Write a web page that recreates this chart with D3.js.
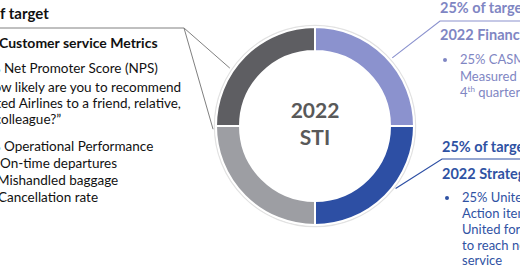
<!doctype html>
<html>
<head>
<meta charset="utf-8">
<script src="https://cdn.jsdelivr.net/npm/d3@7"></script>
<style>
  html, body { margin: 0; padding: 0; background: #fff; overflow: hidden; }
  svg { display: block; font-family: Lato, "Open Sans", sans-serif; }
</style>
</head>
<body>
<svg id="chart" width="520" height="272"></svg>
<script>
  // slices of the STI ring, clockwise from 12 o'clock
  var segments = ["2022 Financial", "2022 Strategic", "Operational Performance", "Customer service Metrics"];
  var weights = [25, 25, 25, 25];
  var centerLabel = ["2022", "STI"];

  // callout texts; "cut" is the part that falls off the left edge of the crop
  var leftTitle = { text: "50% of target", cut: 5 };
  var leftHeading = { text: "2022 Customer service Metrics", cut: 5 };
  var leftLines = [
    { text: "25% Net Promoter Score (NPS)", cut: 4 },
    { text: "\u201cHow likely are you to recommend", cut: 3 },
    { text: "United Airlines to a friend, relative,", cut: 4 },
    { text: "or colleague?\u201d", cut: 4 },
    { text: "25% Operational Performance", cut: 4 },
    { text: "\u2013 On-time departures", cut: 2 },
    { text: "\u2013 Mishandled baggage", cut: 2 },
    { text: "\u2013 Cancellation rate", cut: 2 }
  ];
  var financialTitle = "25% of target";
  var financialHeading = "2022 Financial";
  var financialLines = ["25% CASM-ex", "Measured in the", "4th quarter"];
  var strategicTitle = "25% of target";
  var strategicHeading = "2022 Strategic";
  var strategicLines = ["25% United Next", "Action items to set", "United for success", "to reach new levels of", "service"];

  var svg = d3.select("#chart");
  var cx = 315, cy = 126, outerR = 99, innerR = 75;

  var color = d3.scaleOrdinal()
    .domain(segments)
    .range(["#8b92ce", "#2d4fa4", "#9d9ea3", "#5e5e62"]);

  var pie = d3.pie().sort(null).value(function (d) { return d; });
  var arcs = pie(weights);
  arcs.forEach(function (a, i) { a.name = segments[i]; });

  var arc = d3.arc().innerRadius(innerR).outerRadius(outerR);

  var ring = svg.append("g").attr("transform", "translate(" + cx + "," + cy + ")");

  ring.append("circle")
    .attr("r", outerR + 1.5)
    .attr("fill", "none")
    .attr("stroke", "#e2e2e2")
    .attr("stroke-width", 1.5);

  ring.selectAll("path")
    .data(arcs)
    .enter().append("path")
    .attr("d", arc)
    .attr("fill", function (d) { return color(d.name); })
    .attr("stroke", "#fff")
    .attr("stroke-width", 2);

  ring.selectAll("text.center")
    .data(centerLabel)
    .enter().append("text")
    .attr("class", "center")
    .attr("text-anchor", "middle")
    .attr("y", function (d, i) { return -8 + i * 27; })
    .attr("font-size", 21)
    .attr("font-weight", "bold")
    .attr("fill", "#595959")
    .text(function (d) { return d; });

  // point on the ring edge, a fraction of the way through a slice
  function edgePoint(slice, f, r) {
    var a = slice.startAngle + f * (slice.endAngle - slice.startAngle);
    var p = d3.pointRadial(a, r);
    return [cx + p[0], cy + p[1]];
  }

  // leader lines
  var lineGen = d3.line();
  var leftKnee = [184, 28];
  var pTopLeft = edgePoint(arcs[3], 0.38, outerR + 4);
  var pLeft = edgePoint(arcs[2], 0.98, outerR + 3);
  svg.append("path")
    .attr("d", lineGen([[0, 28], leftKnee, pTopLeft]))
    .attr("fill", "none").attr("stroke", "#808080").attr("stroke-width", 1);
  svg.append("path")
    .attr("d", lineGen([leftKnee, pLeft]))
    .attr("fill", "none").attr("stroke", "#808080").attr("stroke-width", 1);

  var pFin = edgePoint(arcs[0], 0.54, outerR + 4);
  svg.append("path")
    .attr("d", lineGen([[520, 21], [440, 21], pFin]))
    .attr("fill", "none").attr("stroke", color(segments[0])).attr("stroke-width", 1.2);

  var pStr = edgePoint(arcs[1], 0.42, outerR + 3);
  svg.append("path")
    .attr("d", lineGen([[520, 159], [442, 159], pStr]))
    .attr("fill", "none").attr("stroke", color(segments[1])).attr("stroke-width", 1.2);

  // text that is cut by the left edge: place it so the visible part starts at x
  function clippedText(item, x, y, size, weight) {
    var t = svg.append("text")
      .attr("y", y)
      .attr("font-size", size)
      .attr("font-weight", weight)
      .attr("fill", "#111")
      .text(item.text);
    var w = item.cut > 0 ? t.node().getSubStringLength(0, item.cut) : 0;
    t.attr("x", x - w);
    return t;
  }

  clippedText(leftTitle, 0, 19, 15, "bold");
  clippedText(leftHeading, -1, 48, 14, "bold");
  var leftX = [4, 1, 1, 1, 4, 0, -3, -2];
  var leftY = [73, 92, 108, 124, 151, 168, 185, 202];
  leftLines.forEach(function (d, i) {
    clippedText(d, leftX[i], leftY[i], 13.5, "normal");
  });

  // right-hand callouts
  function callout(title, heading, lines, col, x, y0, lineYs) {
    var g = svg.append("g").attr("fill", col);
    g.append("text").attr("x", x).attr("y", y0)
      .attr("font-size", 14.5).attr("font-weight", "bold").text(title);
    g.append("text").attr("x", x).attr("y", y0 + 27)
      .attr("font-size", 14.5).attr("font-weight", "bold").text(heading);
    g.append("circle").attr("cx", x + 5).attr("cy", lineYs[0] - 4).attr("r", 2);
    lines.forEach(function (d, i) {
      var t = g.append("text").attr("x", x + 20).attr("y", lineYs[i]).attr("font-size", 13);
      var m = d.match(/^(\d+)(th)(.*)$/);
      if (m) {
        t.append("tspan").text(m[1]);
        t.append("tspan").attr("font-size", 8).attr("dy", -5).text(m[2]);
        t.append("tspan").attr("dy", 5).text(m[3]);
      } else {
        t.text(d);
      }
    });
  }

  callout(financialTitle, financialHeading, financialLines, "#7f86c3", 440, 13, [64, 81, 97]);
  callout(strategicTitle, strategicHeading, strategicLines, "#2f52a3", 442, 152, [202, 218, 234, 250, 265]);
</script>
</body>
</html>
